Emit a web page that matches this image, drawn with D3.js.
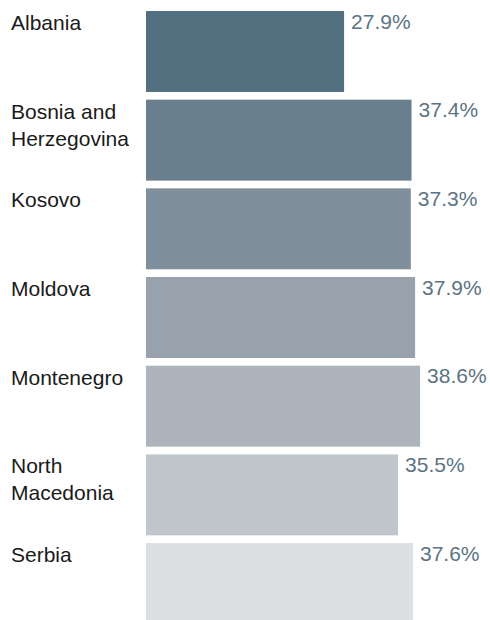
<!DOCTYPE html>
<html>
<head>
<meta charset="utf-8">
<script src="https://cdn.jsdelivr.net/npm/d3@7"></script>
<style>
  html, body { margin: 0; padding: 0; background: #ffffff; }
  svg { display: block; }
  text { font-family: "Liberation Sans", Arial, Helvetica, sans-serif; }
</style>
</head>
<body>
<svg id="chart" width="490" height="620"></svg>
<script>
// Share of population (%) by country
const countries = ["Albania", "Bosnia and Herzegovina", "Kosovo", "Moldova", "Montenegro", "North Macedonia", "Serbia"];
const values = [27.9, 37.4, 37.3, 37.9, 38.6, 35.5, 37.6];
const barColors = ["#52707f", "#6a7f8d", "#7f8f9b", "#97a2ac", "#adb4bc", "#bfc6cc", "#dcdee1"];

const data = countries.map((c, i) => ({ country: c, value: values[i], color: barColors[i] }));

const svg = d3.select("#chart");

const x = d3.scaleLinear().domain([0, 40]).range([146, 430]);
const y = d3.scaleBand()
  .domain(countries)
  .range([11, 624])
  .paddingInner(0.087)
  .paddingOuter(0);

const color = d3.scaleOrdinal().domain(countries).range(barColors);

// bars
svg.append("g")
  .selectAll("rect")
  .data(data)
  .join("rect")
  .attr("x", x(0))
  .attr("y", d => y(d.country))
  .attr("width", d => x(d.value) - x(0))
  .attr("height", y.bandwidth())
  .attr("fill", d => color(d.country));

// value labels
svg.append("g")
  .selectAll("text")
  .data(data)
  .join("text")
  .attr("x", d => x(d.value) + 7)
  .attr("y", d => y(d.country) + 17.5)
  .attr("font-size", 21)
  .attr("fill", "#5b7485")
  .text(d => d.value.toFixed(1) + "%");

// category labels, wrapped to fit the left column
const maxLabelWidth = 128;
const lineHeight = 27;
const labels = svg.append("g")
  .selectAll("text")
  .data(data)
  .join("text")
  .attr("x", 11)
  .attr("y", d => y(d.country) + 19)
  .attr("font-size", 21)
  .attr("fill", "#1a1a1a");

labels.each(function(d) {
  const t = d3.select(this);
  const words = d.country.split(" ");
  let line = [];
  let lineNo = 0;
  let tspan = t.append("tspan").attr("x", 11).attr("dy", 0);
  words.forEach(w => {
    line.push(w);
    tspan.text(line.join(" "));
    if (tspan.node().getComputedTextLength() > maxLabelWidth && line.length > 1) {
      line.pop();
      tspan.text(line.join(" "));
      line = [w];
      lineNo++;
      tspan = t.append("tspan").attr("x", 11).attr("dy", lineHeight).text(w);
    }
  });
});
</script>
</body>
</html>
